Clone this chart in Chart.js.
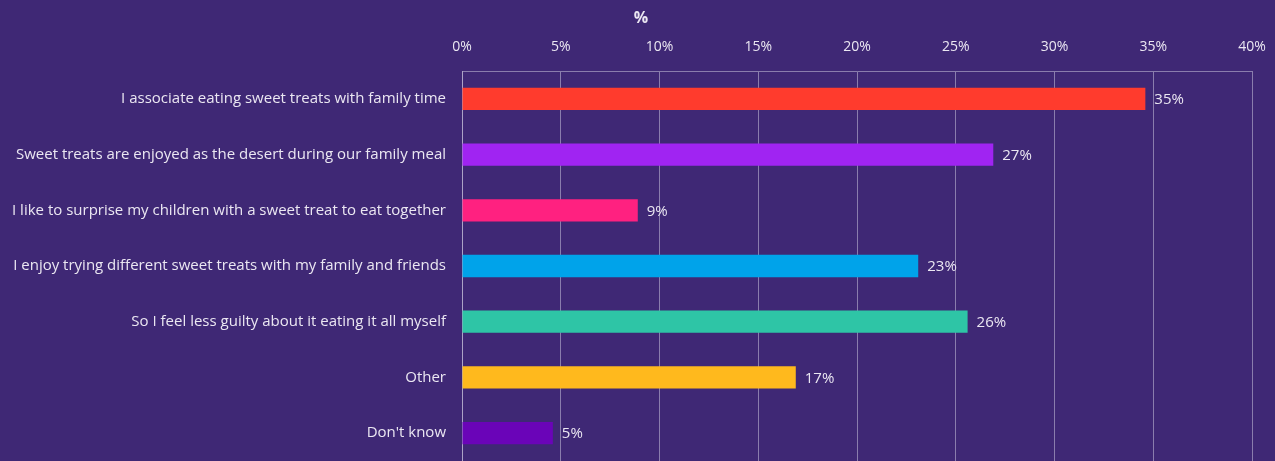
<!DOCTYPE html>
<html>
<head>
<meta charset="utf-8">
<script src="https://cdn.jsdelivr.net/npm/chart.js@4/dist/chart.umd.min.js"></script>
<style>
  html, body { margin: 0; padding: 0; background: #3f2875; }
  #wrap { width: 1275px; height: 461px; position: relative; }
</style>
</head>
<body>
<div id="wrap"><canvas id="chart"></canvas></div>
<script>
// data
const CATEGORIES = [
    "I associate eating sweet treats with family time",
    "Sweet treats are enjoyed as the desert during our family meal",
    "I like to surprise my children with a sweet treat to eat together",
    "I enjoy trying different sweet treats with my family and friends",
    "So I feel less guilty about it eating it all myself",
    "Other",
    "Don't know"
];
const VALUES = [34.6, 26.9, 8.9, 23.1, 25.6, 16.9, 4.6];
const VALUE_LABELS = ["35%", "27%", "9%", "23%", "26%", "17%", "5%"];
const BAR_COLORS = ["#ff3b2d", "#a024f2", "#ff2180", "#00a3ea", "#2ec5a6", "#ffb91d", "#6a04b8"];
const X_MAX = 40;
const X_STEP = 5;

const FONT = "'Open Sans'";
const TEXT = "#ebe7f2";
const GRID = "rgba(200,194,218,0.55)";

// value labels + "%" header
const labelPlugin = {
    id: "valueLabels",
    afterDatasetsDraw(chart){
        const ctx = chart.ctx;
        const meta = chart.getDatasetMeta(0);
        ctx.save();
        ctx.font = "15px " + FONT;
        ctx.fillStyle = TEXT;
        ctx.textAlign = "left";
        ctx.textBaseline = "middle";
        meta.data.forEach((bar, i)=>{
            ctx.fillText(VALUE_LABELS[i], bar.x + 9, bar.y + 1);
        });
        ctx.font = "bold 16px " + FONT;
        ctx.textAlign = "center";
        ctx.fillText("%", 641, 18);
        ctx.restore();
    }
};

const createChart = ()=>{
    const canvas = document.querySelector("#chart");
    new Chart(canvas, {
        type: "bar",
        data: {
            labels: CATEGORIES,
            datasets: [{
                data: VALUES,
                backgroundColor: BAR_COLORS,
                borderWidth: 0,
                barPercentage: 0.4,
                categoryPercentage: 1.0,
            }],
        },
        options: {
            indexAxis: "y",
            responsive: true,
            maintainAspectRatio: false,
            animation: false,
            layout: { padding: { top: 0, right: 23, bottom: 0, left: 0 } },
            plugins: {
                legend: { display: false },
                tooltip: { enabled: false },
            },
            scales: {
                x: {
                    position: "top",
                    min: 0,
                    max: X_MAX,
                    afterFit: (scale)=>{
                        scale.height = 71;
                        scale.paddingLeft = 0;
                        scale.paddingRight = 0;
                    },
                    ticks: {
                        stepSize: X_STEP,
                        color: TEXT,
                        font: { family: FONT, size: 14 },
                        padding: 16,
                        callback: (v)=> v + "%",
                    },
                    grid: {
                        color: GRID,
                        lineWidth: 1,
                        drawTicks: false,
                    },
                    border: { display: true, color: GRID },
                },
                y: {
                    afterFit: (scale)=>{
                        scale.width = 462;
                        scale.paddingTop = 0;
                        scale.paddingBottom = 0;
                    },
                    ticks: {
                        color: TEXT,
                        font: { family: FONT, size: 15 },
                        padding: 16,
                    },
                    grid: { display: false, drawTicks: false },
                    border: { display: true, color: GRID },
                },
            },
        },
        plugins: [labelPlugin],
    });
};

createChart();
</script>
</body>
</html>
